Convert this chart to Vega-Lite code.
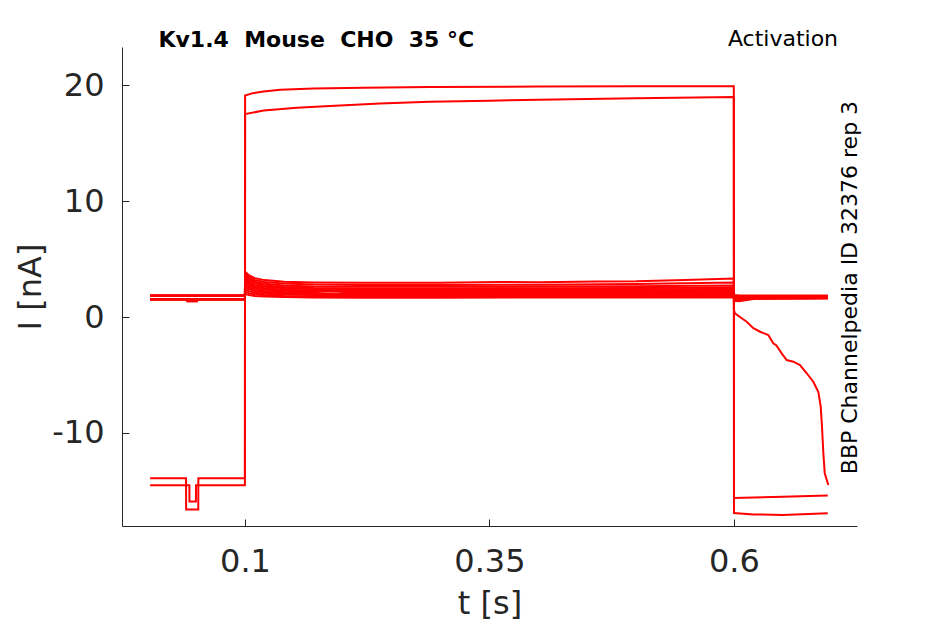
{
  "$schema": "https://vega.github.io/schema/vega-lite/v6.json",
  "width": 735,
  "height": 479,
  "autosize": "none",
  "padding": {"left": 122, "top": 47, "right": 88, "bottom": 98},
  "background": "white",
  "config": {
    "view": {"stroke": null},
    "font": "DejaVu Sans",
    "axis": {
      "grid": false,
      "domainColor": "#262626",
      "domainWidth": 1,
      "tickColor": "#262626",
      "tickSize": -7,
      "tickWidth": 1,
      "labelColor": "#262626",
      "labelFontSize": 32,
      "labelFont": "DejaVu Sans",
      "titleColor": "#262626",
      "titleFontSize": 32,
      "titleFont": "DejaVu Sans",
      "titleFontWeight": "normal"
    }
  },
  "layer": [
    {
      "data": {
        "values": [
          {"s": "a", "t": 0.003, "i": -13.9}, {"s": "a", "t": 0.0397, "i": -13.9}, {"s": "a", "t": 0.0398, "i": -16.6},
          {"s": "a", "t": 0.0522, "i": -16.6}, {"s": "a", "t": 0.0523, "i": -13.9}, {"s": "a", "t": 0.0999, "i": -13.9},
          {"s": "a", "t": 0.1001, "i": 19.1}, {"s": "a", "t": 0.108, "i": 19.3}, {"s": "a", "t": 0.119, "i": 19.45},
          {"s": "a", "t": 0.136, "i": 19.6}, {"s": "a", "t": 0.17, "i": 19.7}, {"s": "a", "t": 0.221, "i": 19.77},
          {"s": "a", "t": 0.289, "i": 19.83}, {"s": "a", "t": 0.4, "i": 19.87}, {"s": "a", "t": 0.5, "i": 19.89},
          {"s": "a", "t": 0.5999, "i": 19.9}, {"s": "a", "t": 0.6001, "i": -15.6}, {"s": "a", "t": 0.65, "i": -15.5},
          {"s": "a", "t": 0.696, "i": -15.4},

          {"s": "b", "t": 0.003, "i": -14.5}, {"s": "b", "t": 0.0431, "i": -14.5}, {"s": "b", "t": 0.0432, "i": -15.9},
          {"s": "b", "t": 0.0498, "i": -15.9}, {"s": "b", "t": 0.0499, "i": -14.5}, {"s": "b", "t": 0.0999, "i": -14.5},
          {"s": "b", "t": 0.1001, "i": 17.5}, {"s": "b", "t": 0.119, "i": 17.8}, {"s": "b", "t": 0.153, "i": 18.04},
          {"s": "b", "t": 0.187, "i": 18.2}, {"s": "b", "t": 0.238, "i": 18.4}, {"s": "b", "t": 0.289, "i": 18.56},
          {"s": "b", "t": 0.35, "i": 18.65}, {"s": "b", "t": 0.4, "i": 18.73}, {"s": "b", "t": 0.5, "i": 18.86},
          {"s": "b", "t": 0.5999, "i": 18.97}, {"s": "b", "t": 0.6001, "i": -16.9}, {"s": "b", "t": 0.62, "i": -17.02},
          {"s": "b", "t": 0.65, "i": -17.07}, {"s": "b", "t": 0.696, "i": -16.92},

          {"s": "c1", "t": 0.003, "i": 1.86}, {"s": "c1", "t": 0.0999, "i": 1.86}, {"s": "c1", "t": 0.1001, "i": 3.9},
          {"s": "c1", "t": 0.104, "i": 3.6}, {"s": "c1", "t": 0.11, "i": 3.35}, {"s": "c1", "t": 0.12, "i": 3.18},
          {"s": "c1", "t": 0.14, "i": 3.05}, {"s": "c1", "t": 0.17, "i": 2.98}, {"s": "c1", "t": 0.22, "i": 2.95},
          {"s": "c1", "t": 0.3, "i": 2.96}, {"s": "c1", "t": 0.36, "i": 3.02}, {"s": "c1", "t": 0.4, "i": 3.0},
          {"s": "c1", "t": 0.46, "i": 3.06}, {"s": "c1", "t": 0.5, "i": 3.08},
          {"s": "c1", "t": 0.55, "i": 3.2}, {"s": "c1", "t": 0.5999, "i": 3.32}, {"s": "c1", "t": 0.6001, "i": 1.9},
          {"s": "c1", "t": 0.605, "i": 1.86}, {"s": "c1", "t": 0.62, "i": 1.85}, {"s": "c1", "t": 0.696, "i": 1.86},

          {"s": "c2", "t": 0.003, "i": 1.84}, {"s": "c2", "t": 0.0999, "i": 1.84}, {"s": "c2", "t": 0.1001, "i": 3.75},
          {"s": "c2", "t": 0.104, "i": 3.45}, {"s": "c2", "t": 0.11, "i": 3.2}, {"s": "c2", "t": 0.12, "i": 3.02},
          {"s": "c2", "t": 0.14, "i": 2.88}, {"s": "c2", "t": 0.17, "i": 2.8}, {"s": "c2", "t": 0.22, "i": 2.76},
          {"s": "c2", "t": 0.3, "i": 2.76}, {"s": "c2", "t": 0.4, "i": 2.78}, {"s": "c2", "t": 0.5, "i": 2.84},
          {"s": "c2", "t": 0.55, "i": 2.9}, {"s": "c2", "t": 0.5999, "i": 2.98}, {"s": "c2", "t": 0.6001, "i": 1.7},
          {"s": "c2", "t": 0.605, "i": 1.62}, {"s": "c2", "t": 0.62, "i": 1.75}, {"s": "c2", "t": 0.696, "i": 1.8},

          {"s": "c3", "t": 0.003, "i": 1.83}, {"s": "c3", "t": 0.0999, "i": 1.83}, {"s": "c3", "t": 0.1001, "i": 3.6},
          {"s": "c3", "t": 0.104, "i": 3.3}, {"s": "c3", "t": 0.11, "i": 3.05}, {"s": "c3", "t": 0.12, "i": 2.87},
          {"s": "c3", "t": 0.14, "i": 2.72}, {"s": "c3", "t": 0.17, "i": 2.64}, {"s": "c3", "t": 0.22, "i": 2.6},
          {"s": "c3", "t": 0.3, "i": 2.6}, {"s": "c3", "t": 0.4, "i": 2.62}, {"s": "c3", "t": 0.5, "i": 2.66},
          {"s": "c3", "t": 0.5999, "i": 2.72}, {"s": "c3", "t": 0.6001, "i": 1.5}, {"s": "c3", "t": 0.605, "i": 1.45},
          {"s": "c3", "t": 0.62, "i": 1.66}, {"s": "c3", "t": 0.696, "i": 1.76},

          {"s": "c4", "t": 0.003, "i": 1.85}, {"s": "c4", "t": 0.0999, "i": 1.85}, {"s": "c4", "t": 0.1001, "i": 3.45},
          {"s": "c4", "t": 0.104, "i": 3.15}, {"s": "c4", "t": 0.11, "i": 2.92}, {"s": "c4", "t": 0.12, "i": 2.72},
          {"s": "c4", "t": 0.14, "i": 2.58}, {"s": "c4", "t": 0.17, "i": 2.5}, {"s": "c4", "t": 0.22, "i": 2.46},
          {"s": "c4", "t": 0.3, "i": 2.46}, {"s": "c4", "t": 0.4, "i": 2.48}, {"s": "c4", "t": 0.5, "i": 2.5},
          {"s": "c4", "t": 0.5999, "i": 2.54}, {"s": "c4", "t": 0.6001, "i": 1.86}, {"s": "c4", "t": 0.605, "i": 1.82},
          {"s": "c4", "t": 0.62, "i": 1.8}, {"s": "c4", "t": 0.696, "i": 1.82},

          {"s": "c5", "t": 0.003, "i": 1.82}, {"s": "c5", "t": 0.0999, "i": 1.82}, {"s": "c5", "t": 0.1001, "i": 3.3},
          {"s": "c5", "t": 0.104, "i": 3.0}, {"s": "c5", "t": 0.11, "i": 2.77}, {"s": "c5", "t": 0.12, "i": 2.6},
          {"s": "c5", "t": 0.14, "i": 2.47}, {"s": "c5", "t": 0.17, "i": 2.4}, {"s": "c5", "t": 0.22, "i": 2.36},
          {"s": "c5", "t": 0.3, "i": 2.36}, {"s": "c5", "t": 0.4, "i": 2.37}, {"s": "c5", "t": 0.5, "i": 2.39},
          {"s": "c5", "t": 0.5999, "i": 2.42}, {"s": "c5", "t": 0.6001, "i": 1.4}, {"s": "c5", "t": 0.605, "i": 1.36},
          {"s": "c5", "t": 0.62, "i": 1.56}, {"s": "c5", "t": 0.696, "i": 1.62},

          {"s": "c6", "t": 0.003, "i": 1.84}, {"s": "c6", "t": 0.0999, "i": 1.84}, {"s": "c6", "t": 0.1001, "i": 3.15},
          {"s": "c6", "t": 0.104, "i": 2.86}, {"s": "c6", "t": 0.11, "i": 2.64}, {"s": "c6", "t": 0.12, "i": 2.48},
          {"s": "c6", "t": 0.14, "i": 2.36}, {"s": "c6", "t": 0.17, "i": 2.29}, {"s": "c6", "t": 0.22, "i": 2.26},
          {"s": "c6", "t": 0.3, "i": 2.26}, {"s": "c6", "t": 0.4, "i": 2.27}, {"s": "c6", "t": 0.5, "i": 2.28},
          {"s": "c6", "t": 0.5999, "i": 2.32}, {"s": "c6", "t": 0.6001, "i": 0.6}, {"s": "c6", "t": 0.601, "i": 0.32},
          {"s": "c6", "t": 0.608, "i": -0.11}, {"s": "c6", "t": 0.6131, "i": -0.41}, {"s": "c6", "t": 0.6199, "i": -0.97},
          {"s": "c6", "t": 0.6268, "i": -1.27}, {"s": "c6", "t": 0.6352, "i": -1.55}, {"s": "c6", "t": 0.6403, "i": -2.27},
          {"s": "c6", "t": 0.6435, "i": -2.46}, {"s": "c6", "t": 0.6454, "i": -2.7}, {"s": "c6", "t": 0.6489, "i": -3.13},
          {"s": "c6", "t": 0.654, "i": -3.71}, {"s": "c6", "t": 0.6608, "i": -3.85}, {"s": "c6", "t": 0.6676, "i": -4.14},
          {"s": "c6", "t": 0.6745, "i": -4.85}, {"s": "c6", "t": 0.6812, "i": -5.58}, {"s": "c6", "t": 0.6863, "i": -6.44},
          {"s": "c6", "t": 0.6888, "i": -7.73}, {"s": "c6", "t": 0.6901, "i": -9.46}, {"s": "c6", "t": 0.6915, "i": -11.75},
          {"s": "c6", "t": 0.6929, "i": -13.47}, {"s": "c6", "t": 0.6966, "i": -14.48},

          {"s": "c7", "t": 0.003, "i": 1.53}, {"s": "c7", "t": 0.0999, "i": 1.53}, {"s": "c7", "t": 0.1001, "i": 3.0},
          {"s": "c7", "t": 0.104, "i": 2.73}, {"s": "c7", "t": 0.11, "i": 2.52}, {"s": "c7", "t": 0.12, "i": 2.37},
          {"s": "c7", "t": 0.14, "i": 2.26}, {"s": "c7", "t": 0.17, "i": 2.2}, {"s": "c7", "t": 0.22, "i": 2.16},
          {"s": "c7", "t": 0.3, "i": 2.16}, {"s": "c7", "t": 0.4, "i": 2.17}, {"s": "c7", "t": 0.5, "i": 2.18},
          {"s": "c7", "t": 0.5999, "i": 2.21}, {"s": "c7", "t": 0.6001, "i": 1.76}, {"s": "c7", "t": 0.605, "i": 1.72},
          {"s": "c7", "t": 0.62, "i": 1.73}, {"s": "c7", "t": 0.696, "i": 1.76},

          {"s": "c8", "t": 0.003, "i": 1.51}, {"s": "c8", "t": 0.041, "i": 1.51}, {"s": "c8", "t": 0.0411, "i": 1.35},
          {"s": "c8", "t": 0.0509, "i": 1.35}, {"s": "c8", "t": 0.051, "i": 1.51}, {"s": "c8", "t": 0.0999, "i": 1.51},
          {"s": "c8", "t": 0.1001, "i": 2.8}, {"s": "c8", "t": 0.104, "i": 2.56}, {"s": "c8", "t": 0.11, "i": 2.38},
          {"s": "c8", "t": 0.12, "i": 2.25}, {"s": "c8", "t": 0.14, "i": 2.15}, {"s": "c8", "t": 0.17, "i": 2.09},
          {"s": "c8", "t": 0.195, "i": 1.9}, {"s": "c8", "t": 0.2, "i": 2.07},
          {"s": "c8", "t": 0.22, "i": 2.06}, {"s": "c8", "t": 0.3, "i": 2.06}, {"s": "c8", "t": 0.4, "i": 2.07},
          {"s": "c8", "t": 0.5, "i": 2.08}, {"s": "c8", "t": 0.5999, "i": 2.11}, {"s": "c8", "t": 0.6001, "i": 1.6},
          {"s": "c8", "t": 0.605, "i": 1.54}, {"s": "c8", "t": 0.62, "i": 1.63}, {"s": "c8", "t": 0.696, "i": 1.66},

          {"s": "c9", "t": 0.003, "i": 1.54}, {"s": "c9", "t": 0.0999, "i": 1.54}, {"s": "c9", "t": 0.1001, "i": 2.6},
          {"s": "c9", "t": 0.104, "i": 2.41}, {"s": "c9", "t": 0.11, "i": 2.25}, {"s": "c9", "t": 0.12, "i": 2.13},
          {"s": "c9", "t": 0.14, "i": 2.04}, {"s": "c9", "t": 0.17, "i": 1.99}, {"s": "c9", "t": 0.22, "i": 1.96},
          {"s": "c9", "t": 0.3, "i": 1.96}, {"s": "c9", "t": 0.4, "i": 1.97}, {"s": "c9", "t": 0.5, "i": 1.98},
          {"s": "c9", "t": 0.5999, "i": 2.01}, {"s": "c9", "t": 0.6001, "i": 1.82}, {"s": "c9", "t": 0.605, "i": 1.79},
          {"s": "c9", "t": 0.62, "i": 1.79}, {"s": "c9", "t": 0.696, "i": 1.81},

          {"s": "c10", "t": 0.003, "i": 1.52}, {"s": "c10", "t": 0.041, "i": 1.52}, {"s": "c10", "t": 0.0411, "i": 1.36},
          {"s": "c10", "t": 0.0509, "i": 1.36}, {"s": "c10", "t": 0.051, "i": 1.52}, {"s": "c10", "t": 0.0999, "i": 1.52},
          {"s": "c10", "t": 0.1001, "i": 2.4}, {"s": "c10", "t": 0.104, "i": 2.23}, {"s": "c10", "t": 0.11, "i": 2.1},
          {"s": "c10", "t": 0.12, "i": 2.0}, {"s": "c10", "t": 0.14, "i": 1.93}, {"s": "c10", "t": 0.17, "i": 1.89},
          {"s": "c10", "t": 0.22, "i": 1.86}, {"s": "c10", "t": 0.3, "i": 1.86}, {"s": "c10", "t": 0.4, "i": 1.87},
          {"s": "c10", "t": 0.5, "i": 1.88}, {"s": "c10", "t": 0.5999, "i": 1.91}, {"s": "c10", "t": 0.6001, "i": 1.55},
          {"s": "c10", "t": 0.605, "i": 1.48}, {"s": "c10", "t": 0.62, "i": 1.58}, {"s": "c10", "t": 0.696, "i": 1.6},

          {"s": "c11", "t": 0.003, "i": 1.5}, {"s": "c11", "t": 0.0999, "i": 1.5}, {"s": "c11", "t": 0.1001, "i": 2.2},
          {"s": "c11", "t": 0.104, "i": 2.06}, {"s": "c11", "t": 0.11, "i": 1.96}, {"s": "c11", "t": 0.12, "i": 1.88},
          {"s": "c11", "t": 0.14, "i": 1.82}, {"s": "c11", "t": 0.17, "i": 1.79}, {"s": "c11", "t": 0.22, "i": 1.77},
          {"s": "c11", "t": 0.3, "i": 1.77}, {"s": "c11", "t": 0.4, "i": 1.78}, {"s": "c11", "t": 0.5, "i": 1.79},
          {"s": "c11", "t": 0.5999, "i": 1.81}, {"s": "c11", "t": 0.6001, "i": 1.7}, {"s": "c11", "t": 0.605, "i": 1.67},
          {"s": "c11", "t": 0.62, "i": 1.7}, {"s": "c11", "t": 0.696, "i": 1.72},

          {"s": "c12", "t": 0.003, "i": 1.53}, {"s": "c12", "t": 0.041, "i": 1.53}, {"s": "c12", "t": 0.0411, "i": 1.37},
          {"s": "c12", "t": 0.0509, "i": 1.37}, {"s": "c12", "t": 0.051, "i": 1.53}, {"s": "c12", "t": 0.0999, "i": 1.53},
          {"s": "c12", "t": 0.1001, "i": 2.0}, {"s": "c12", "t": 0.104, "i": 1.9}, {"s": "c12", "t": 0.11, "i": 1.82},
          {"s": "c12", "t": 0.12, "i": 1.76}, {"s": "c12", "t": 0.14, "i": 1.72}, {"s": "c12", "t": 0.17, "i": 1.69},
          {"s": "c12", "t": 0.22, "i": 1.67}, {"s": "c12", "t": 0.3, "i": 1.67}, {"s": "c12", "t": 0.4, "i": 1.68},
          {"s": "c12", "t": 0.5, "i": 1.69}, {"s": "c12", "t": 0.5999, "i": 1.71}, {"s": "c12", "t": 0.6001, "i": 1.66},
          {"s": "c12", "t": 0.605, "i": 1.6}, {"s": "c12", "t": 0.62, "i": 1.65}, {"s": "c12", "t": 0.696, "i": 1.68}
        ]
      },
      "mark": {"type": "line", "color": "#ff0000", "strokeWidth": 2, "clip": true},
      "encoding": {
        "x": {
          "field": "t",
          "type": "quantitative",
          "title": "t [s]",
          "scale": {"domain": [-0.0258, 0.7259], "nice": false, "zero": false},
          "axis": {"values": [0.1, 0.35, 0.6], "labelExpr": "'' + datum.value", "labelPadding": 27, "titlePadding": 11}
        },
        "y": {
          "field": "i",
          "type": "quantitative",
          "title": "I [nA]",
          "scale": {"domain": [-18.02, 23.28], "nice": false, "zero": false},
          "axis": {"values": [-10, 0, 10, 20], "labelExpr": "'' + datum.value", "labelPadding": 25, "titlePadding": 4}
        },
        "detail": {"field": "s", "type": "nominal"}
      }
    },
    {
      "data": {"values": [{}]},
      "mark": {"type": "text", "align": "left", "baseline": "alphabetic", "font": "DejaVu Sans", "fontSize": 22, "fontWeight": "bold", "color": "#000000"},
      "encoding": {
        "x": {"datum": 0.0115},
        "y": {"datum": 23.25},
        "text": {"value": "Kv1.4\u00a0\u00a0Mouse\u00a0\u00a0CHO\u00a0\u00a035\u00a0°C"}
      }
    },
    {
      "data": {"values": [{}]},
      "mark": {"type": "text", "align": "right", "baseline": "alphabetic", "font": "DejaVu Sans", "fontSize": 22, "color": "#000000"},
      "encoding": {
        "x": {"datum": 0.7065},
        "y": {"datum": 23.36},
        "text": {"value": "Activation"}
      }
    },
    {
      "data": {"values": [{}]},
      "mark": {"type": "text", "align": "center", "baseline": "alphabetic", "angle": 270, "font": "DejaVu Sans", "fontSize": 22, "color": "#000000"},
      "encoding": {
        "x": {"datum": 0.7256},
        "y": {"datum": 2.54},
        "text": {"value": "BBP Channelpedia ID 32376 rep 3"}
      }
    }
  ]
}
